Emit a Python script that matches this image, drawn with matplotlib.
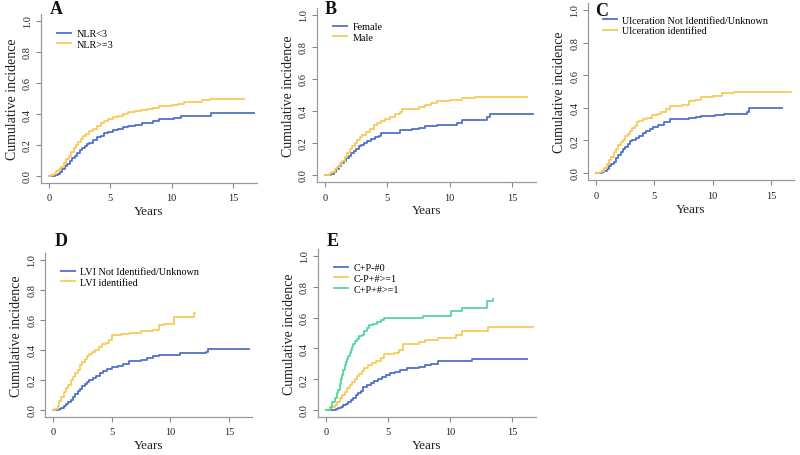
import matplotlib
matplotlib.use("Agg")
import matplotlib.pyplot as plt

plt.rcParams['font.family'] = ['Liberation Serif', 'DejaVu Serif']

BLUE = "#5070c8"
YELLOW = "#f8ca5c"
GREEN = "#55d6a4"

# ---- panel A : NLR
a_t_low = [0, 0.3, 0.5, 0.7, 0.9, 1.1, 1.3, 1.5, 1.7, 1.9, 2.1, 2.3, 2.5, 2.7, 2.9, 3.1, 3.3, 3.6, 3.9, 4.2, 4.5, 4.8, 5.2, 5.6, 6.0, 6.4, 7.0, 7.6, 8.0, 8.5, 9.0, 10.2, 10.8, 13.2, 16.7]
a_v_low = [0, 0.003, 0.008, 0.015, 0.025, 0.045, 0.065, 0.08, 0.1, 0.115, 0.13, 0.15, 0.165, 0.18, 0.195, 0.205, 0.215, 0.235, 0.25, 0.26, 0.275, 0.285, 0.295, 0.305, 0.315, 0.325, 0.33, 0.34, 0.345, 0.355, 0.37, 0.375, 0.385, 0.405, 0.405]
a_t_high = [0, 0.2, 0.4, 0.6, 0.8, 1.0, 1.2, 1.4, 1.6, 1.8, 2.0, 2.2, 2.4, 2.6, 2.8, 3.0, 3.3, 3.6, 3.9, 4.2, 4.5, 4.8, 5.2, 5.6, 6.0, 6.4, 7.0, 7.5, 8.0, 8.5, 9.0, 10.0, 10.5, 11.0, 11.5, 12.5, 13.1, 15.9]
a_v_high = [0, 0.005, 0.015, 0.03, 0.045, 0.06, 0.085, 0.11, 0.13, 0.155, 0.18, 0.2, 0.22, 0.24, 0.255, 0.27, 0.29, 0.305, 0.325, 0.34, 0.355, 0.37, 0.38, 0.39, 0.40, 0.415, 0.42, 0.425, 0.435, 0.44, 0.45, 0.455, 0.465, 0.475, 0.48, 0.49, 0.50, 0.50]
a_labels = ["NLR<3", "NLR>=3"]

# ---- panel B : sex
b_t_f = [0, 0.3, 0.5, 0.7, 0.9, 1.1, 1.3, 1.5, 1.7, 1.9, 2.1, 2.3, 2.5, 2.7, 2.9, 3.1, 3.4, 3.7, 4.0, 4.3, 4.5, 5.5, 6.0, 7.0, 7.5, 8.0, 9.0, 10.0, 10.6, 11.0, 13.0, 13.2, 16.7]
b_v_f = [0, 0.003, 0.008, 0.02, 0.035, 0.055, 0.075, 0.09, 0.105, 0.12, 0.135, 0.15, 0.165, 0.18, 0.19, 0.2, 0.21, 0.225, 0.235, 0.245, 0.26, 0.265, 0.28, 0.285, 0.295, 0.305, 0.31, 0.315, 0.325, 0.345, 0.36, 0.38, 0.38]
b_t_m = [0, 0.2, 0.4, 0.6, 0.8, 1.0, 1.2, 1.4, 1.6, 1.8, 2.0, 2.2, 2.4, 2.6, 2.8, 3.0, 3.3, 3.6, 3.9, 4.2, 4.5, 4.8, 5.2, 5.6, 6.0, 6.2, 7.5, 8.0, 8.5, 9.0, 10.0, 11.0, 12.0, 16.2]
b_v_m = [0, 0.003, 0.01, 0.02, 0.035, 0.05, 0.07, 0.09, 0.11, 0.135, 0.16, 0.18, 0.2, 0.22, 0.235, 0.25, 0.27, 0.29, 0.31, 0.325, 0.34, 0.35, 0.365, 0.38, 0.395, 0.415, 0.425, 0.435, 0.45, 0.46, 0.47, 0.48, 0.49, 0.49]
b_labels = ["Female", "Male"]

# ---- panel C : ulceration
c_t_no = [0, 0.5, 0.7, 0.9, 1.1, 1.3, 1.5, 1.7, 1.9, 2.1, 2.3, 2.5, 2.7, 2.9, 3.1, 3.4, 3.7, 4.0, 4.3, 4.6, 4.9, 5.3, 5.8, 6.3, 8.0, 8.6, 9.0, 10.2, 11.0, 12.9, 13.1, 15.9]
c_v_no = [0, 0.005, 0.015, 0.025, 0.04, 0.055, 0.07, 0.09, 0.11, 0.13, 0.15, 0.16, 0.18, 0.195, 0.205, 0.215, 0.23, 0.245, 0.26, 0.27, 0.285, 0.295, 0.31, 0.33, 0.335, 0.345, 0.35, 0.355, 0.365, 0.375, 0.40, 0.40]
c_t_yes = [0, 0.3, 0.5, 0.7, 0.9, 1.1, 1.3, 1.5, 1.7, 1.9, 2.1, 2.3, 2.5, 2.7, 2.9, 3.1, 3.3, 3.5, 3.7, 4.0, 4.4, 4.8, 5.2, 5.6, 6.0, 6.3, 7.4, 8.0, 8.5, 9.0, 10.0, 10.8, 11.8, 16.7]
c_v_yes = [0, 0.005, 0.015, 0.03, 0.055, 0.08, 0.1, 0.13, 0.15, 0.17, 0.19, 0.205, 0.225, 0.24, 0.26, 0.275, 0.29, 0.31, 0.32, 0.33, 0.34, 0.355, 0.365, 0.375, 0.39, 0.41, 0.42, 0.44, 0.45, 0.465, 0.475, 0.49, 0.50, 0.50]
c_labels = ["Ulceration Not Identified/Unknown", "Ulceration identified"]

# ---- panel D : LVI
d_t_no = [0, 0.3, 0.5, 0.7, 0.9, 1.1, 1.3, 1.5, 1.7, 1.9, 2.1, 2.3, 2.5, 2.7, 2.9, 3.1, 3.4, 3.7, 4.0, 4.3, 4.6, 5.0, 5.5, 6.0, 6.5, 7.5, 8.0, 8.5, 9.0, 10.8, 13.0, 13.2, 16.7]
d_v_no = [0, 0.003, 0.008, 0.015, 0.025, 0.04, 0.055, 0.07, 0.09, 0.11, 0.125, 0.14, 0.16, 0.175, 0.19, 0.2, 0.215, 0.23, 0.245, 0.26, 0.275, 0.285, 0.295, 0.31, 0.33, 0.335, 0.35, 0.36, 0.37, 0.38, 0.39, 0.405, 0.405]
d_t_yes = [0, 0.2, 0.4, 0.5, 0.7, 0.9, 1.1, 1.3, 1.5, 1.7, 1.9, 2.1, 2.3, 2.5, 2.7, 2.9, 3.1, 3.3, 3.6, 3.9, 4.2, 4.5, 4.8, 5.0, 5.8, 6.5, 7.5, 8.5, 9.0, 9.5, 10.3, 12.0, 12.1]
d_v_yes = [0, 0.01, 0.03, 0.06, 0.09, 0.12, 0.15, 0.17, 0.2, 0.22, 0.25, 0.27, 0.3, 0.32, 0.34, 0.36, 0.375, 0.385, 0.4, 0.42, 0.44, 0.45, 0.47, 0.5, 0.505, 0.515, 0.525, 0.535, 0.565, 0.575, 0.62, 0.65, 0.65]
d_labels = ["LVI Not Identified/Unknown", "LVI identified"]

# ---- panel E : C/P groups
e_t_1 = [0, 0.8, 1.0, 1.2, 1.4, 1.6, 1.8, 2.0, 2.2, 2.4, 2.6, 2.8, 3.0, 3.3, 3.6, 3.9, 4.2, 4.5, 4.8, 5.2, 5.6, 6.0, 6.5, 7.5, 8.0, 8.5, 9.0, 11.8, 16.2]
e_v_1 = [0, 0.008, 0.015, 0.02, 0.03, 0.04, 0.05, 0.065, 0.08, 0.095, 0.11, 0.125, 0.15, 0.16, 0.175, 0.19, 0.2, 0.215, 0.225, 0.24, 0.25, 0.26, 0.27, 0.28, 0.29, 0.30, 0.32, 0.33, 0.33]
e_t_2 = [0, 0.3, 0.5, 0.7, 0.9, 1.1, 1.3, 1.5, 1.7, 1.9, 2.1, 2.3, 2.5, 2.7, 2.9, 3.1, 3.4, 3.7, 4.0, 4.4, 4.7, 5.5, 5.9, 6.2, 7.5, 8.0, 9.0, 10.0, 10.5, 11.0, 13.1, 16.7]
e_v_2 = [0, 0.01, 0.02, 0.035, 0.055, 0.075, 0.095, 0.12, 0.14, 0.165, 0.185, 0.2, 0.22, 0.235, 0.255, 0.27, 0.29, 0.305, 0.32, 0.34, 0.365, 0.37, 0.39, 0.43, 0.44, 0.455, 0.465, 0.47, 0.49, 0.51, 0.54, 0.54]
e_t_3 = [0, 0.3, 0.5, 0.7, 0.9, 1.0, 1.1, 1.2, 1.3, 1.4, 1.5, 1.6, 1.7, 1.8, 1.9, 2.0, 2.1, 2.2, 2.3, 2.5, 2.7, 2.9, 3.1, 3.3, 3.5, 3.8, 4.1, 4.4, 4.7, 6.5, 7.8, 10.1, 11.0, 13.0, 13.5]
e_v_3 = [0, 0.02, 0.05, 0.08, 0.11, 0.13, 0.17, 0.2, 0.23, 0.26, 0.29, 0.31, 0.33, 0.35, 0.37, 0.39, 0.41, 0.43, 0.45, 0.46, 0.48, 0.49, 0.51, 0.53, 0.55, 0.56, 0.57, 0.585, 0.595, 0.60, 0.61, 0.64, 0.66, 0.71, 0.72]
e_labels = ["C+P-#0", "C-P+#>=1", "C+P+#>=1"]

yticks = [0, 0.2, 0.4, 0.6, 0.8, 1.0]
xticks = [0, 5, 10, 15]

W, H = 800, 456
XLIM = (-0.65, 16.95)
YLIM = (-0.045, 1.045)

fig = plt.figure(figsize=(W / 100, H / 100), dpi=100)


def make_ax(x0, x15, y0, y1):
    # pixel positions of x=0, x=15, y=0, y=1 -> axes box
    px = (x15 - x0) / 15.0
    py = (y0 - y1)
    left = x0 + XLIM[0] * px
    right = x0 + XLIM[1] * px
    bottom = y0 - YLIM[0] * py
    top = y0 - YLIM[1] * py
    return fig.add_axes([left / W, 1 - bottom / H, (right - left) / W, (bottom - top) / H])


def panel(ax, letter, letter_xy, curves, labels, leg_anchor):
    for (t, v, c), lab in zip(curves, labels):
        ax.plot(t, v, drawstyle="steps-post", color=c, lw=1.3, label=lab)
    ax.set_xlim(*XLIM)
    ax.set_ylim(*YLIM)
    ax.set_xticks(xticks)
    ax.set_yticks(yticks)
    ax.set_yticklabels(["%.1f" % y for y in yticks], rotation=90, va="center")
    ax.tick_params(colors="#888888", labelcolor="#222222", labelsize=7.5, length=3.5, width=0.8)
    ax.tick_params(axis="x", pad=4)
    ax.tick_params(axis="y", pad=3)
    for s in ["top", "right"]:
        ax.spines[s].set_visible(False)
    for s in ["left", "bottom"]:
        ax.spines[s].set_color("#999999")
        ax.spines[s].set_linewidth(0.9)
    ax.set_xlabel("Years", fontsize=9.5, color="#222222", labelpad=2)
    ax.set_ylabel("Cumulative incidence", fontsize=10, color="#222222", labelpad=3)
    ax.legend(loc="upper left", bbox_to_anchor=leg_anchor, frameon=False, fontsize=7.3,
              handlelength=1.4, handletextpad=0.5, labelspacing=0.15, borderaxespad=0)
    fig.text(letter_xy[0] / W, 1 - letter_xy[1] / H, letter, fontsize=13, fontweight="bold",
             ha="center", va="center", color="#111111")


axA = make_ax(49, 233, 177, 22)
panel(axA, "A", (56, 9), [(a_t_low, a_v_low, BLUE), (a_t_high, a_v_high, YELLOW)], a_labels, (0.055, 0.935))

axB = make_ax(325, 512, 176, 16)
panel(axB, "B", (331, 9), [(b_t_f, b_v_f, BLUE), (b_t_m, b_v_m, YELLOW)], b_labels, (0.055, 0.94))

axC = make_ax(596, 771, 174, 11)
panel(axC, "C", (602, 11), [(c_t_no, c_v_no, BLUE), (c_t_yes, c_v_yes, YELLOW)], c_labels, (0.05, 0.95))

axD = make_ax(53, 229, 411, 261)
panel(axD, "D", (61, 242), [(d_t_no, d_v_no, BLUE), (d_t_yes, d_v_yes, YELLOW)], d_labels, (0.055, 0.94))

axE = make_ax(326, 512, 411, 257)
panel(axE, "E", (333, 242), [(e_t_1, e_v_1, BLUE), (e_t_2, e_v_2, YELLOW), (e_t_3, e_v_3, GREEN)], e_labels, (0.055, 0.94))

fig.savefig("out.png", dpi=100)
